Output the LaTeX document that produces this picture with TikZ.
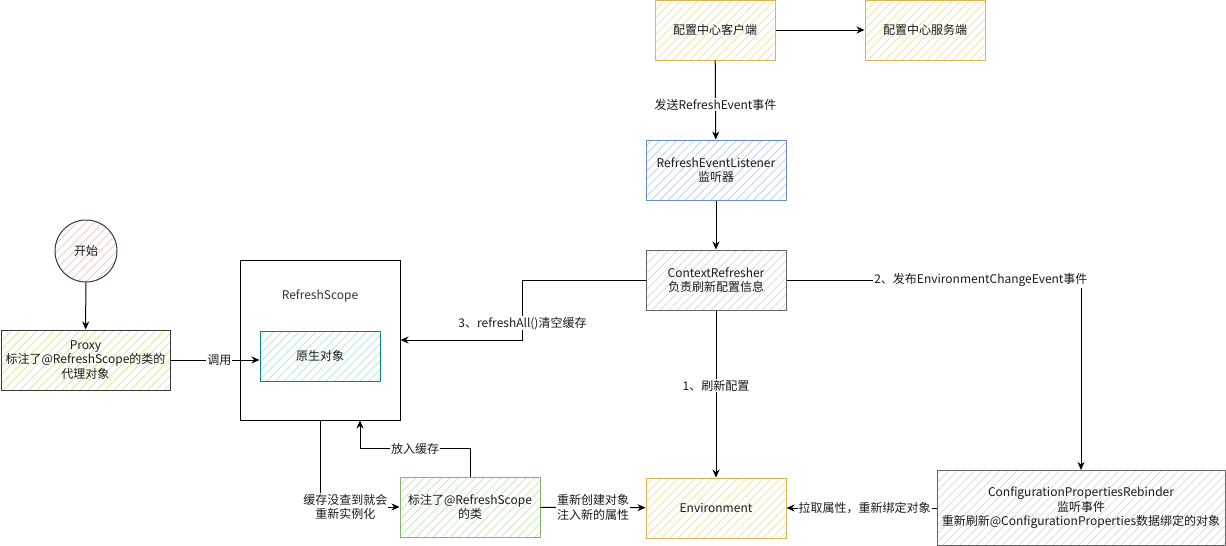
\documentclass[tikz,border=0pt]{standalone}
\usepackage{fontspec}
\setmainfont{Noto Sans CJK SC}
\usepackage{xcolor}
\usepackage{tikz}
\usetikzlibrary{arrows,arrows.meta,shapes,positioning,patterns.meta}

\definecolor{txt}{HTML}{1A1A1A}
\definecolor{titlegray}{HTML}{333333}
\definecolor{darkline}{HTML}{36393D}
\definecolor{yelline}{HTML}{D6B656}
\definecolor{yelhatch}{HTML}{F3DC9A}
\definecolor{blueline}{HTML}{6C8EBF}
\definecolor{bluehatch}{HTML}{B5CBEE}
\definecolor{grayline}{HTML}{666666}
\definecolor{grayhatch}{HTML}{D6D6D6}
\definecolor{greenline}{HTML}{82B366}
\definecolor{greenhatch}{HTML}{C2E2B4}
\definecolor{limehatch}{HTML}{CDEB8B}
\definecolor{tealline}{HTML}{0E8088}
\definecolor{tealhatch}{HTML}{B0E3E6}
\definecolor{pinkhatch}{HTML}{F4C2C0}

\tikzset{
  every node/.style={font=\fontsize{12}{14.5}\selectfont, text=txt},
  box/.style={draw, rectangle, align=center, inner sep=2pt},
  hatch/.style={pattern={Lines[angle=45,distance=6pt,line width=0.7pt]}, pattern color=#1},
  lbl/.style={fill=white, inner sep=1pt, align=center}
}

\begin{document}
\begin{tikzpicture}[x=1pt, y=-1pt, >={Stealth[length=8pt, width=7pt, inset=2.5pt]}, line width=1pt]
        \useasboundingbox (0,0) rectangle (1226,546);

        \node[circle, draw=darkline, hatch=pinkhatch, minimum size=62pt] (start) at (86,251) {开始};
        \node[box, draw=darkline, hatch=limehatch, minimum width=169pt, minimum height=60pt] (proxy) at (85.5,360) {Proxy\\标注了@RefreshScope的类的\\代理对象};

        \node[box, draw=black, fill=white, minimum width=160pt, minimum height=160pt] (scope) at (320,340) {};
        \node[text=titlegray] (scopetitle) at (320,296) {RefreshScope};
        \node[box, draw=tealline, hatch=tealhatch, minimum width=120pt, minimum height=50pt] (raw) at (320,356) {原生对象};

        \node[box, draw=yelline, hatch=yelhatch, minimum width=120pt, minimum height=60pt] (client) at (715,30) {配置中心客户端};
        \node[box, draw=yelline, hatch=yelhatch, minimum width=120pt, minimum height=60pt] (server) at (925,30) {配置中心服务端};
        \node[box, draw=blueline, hatch=bluehatch, minimum width=140pt, minimum height=60pt] (listener) at (716,170) {RefreshEventListener\\监听器};
        \node[box, draw=grayline, hatch=grayhatch, minimum width=140pt, minimum height=60pt] (refresher) at (716,280) {ContextRefresher\\负责刷新配置信息};
        \node[box, draw=yelline, hatch=yelhatch, minimum width=140pt, minimum height=60pt] (env) at (716,508) {Environment};
        \node[box, draw=grayline, hatch=grayhatch, minimum width=288pt, minimum height=75pt] (rebinder) at (1081,508) {ConfigurationPropertiesRebinder\\监听事件\\重新刷新@ConfigurationProperties数据绑定的对象};
        \node[box, draw=greenline, hatch=greenhatch, minimum width=140pt, minimum height=60pt] (cls) at (470,507) {标注了@RefreshScope\\的类};

        \draw[->] (start) -- (proxy);
        \draw[->] (proxy) to node[lbl, pos=0.55]{调用} (raw.west |- proxy);

        \draw[->] (client) -- (server);
        \draw[->] (client) to node[lbl, pos=0.56]{发送RefreshEvent事件} (listener);
        \draw[->] (listener) -- (refresher);
        \draw[->] (refresher) to node[lbl, pos=0.45]{1、刷新配置} (env);
        \draw[->] (refresher.east) -| node[lbl, pos=0.33]{2、发布EnvironmentChangeEvent事件} (rebinder.north);
        \draw[->] (rebinder) to node[lbl, pos=0.48]{拉取属性，重新绑定对象} (env);
        \draw[->] (refresher.west) -- ++(-123,0) |- node[lbl, pos=0.36]{3、refreshAll()清空缓存} (scope.east);

        \draw[->] (scope.south) |- node[lbl, pos=0.66]{缓存没查到就会\\重新实例化} (cls.west);
        \draw[->] (cls.north) -- ++(0,-28) -| node[lbl, pos=0.25]{放入缓存} ([xshift=40pt]scope.south);
        \draw[->] (cls) to node[lbl]{重新创建对象\\注入新的属性} (env);
    \end{tikzpicture}
\end{document}
